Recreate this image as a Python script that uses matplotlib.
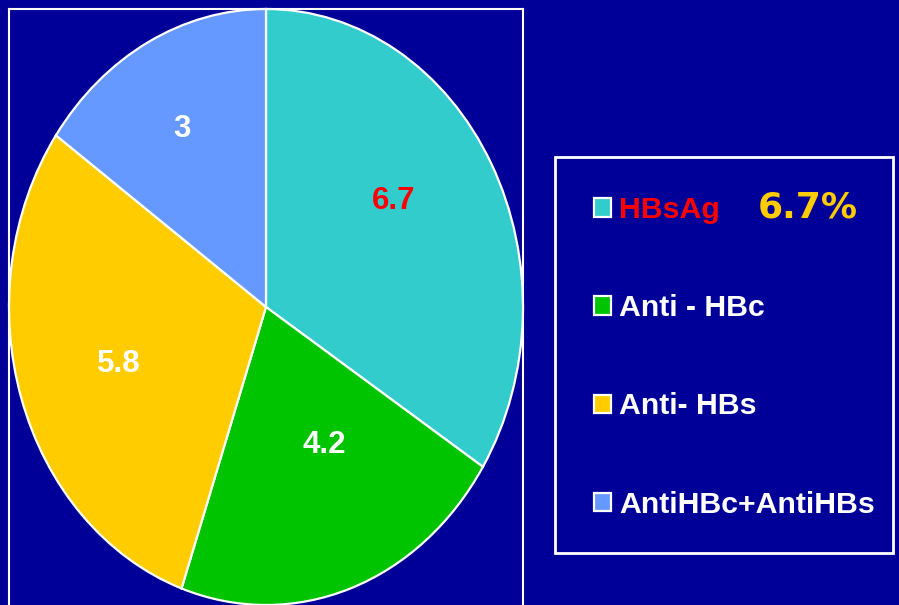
import matplotlib

matplotlib.use("Agg")

import matplotlib.pyplot as plt
from matplotlib.patches import Rectangle

BG_COLOR = "#000099"
SLICE_VALUES = [6.7, 4.2, 5.8, 3]
SLICE_LABELS = ["6.7", "4.2", "5.8", "3"]
SLICE_COLORS = ["#33CCCC", "#00C400", "#FFCC00", "#6699FF"]
LABEL_COLORS = ["#FF0000", "white", "white", "white"]
LEGEND_LABELS = ["HBsAg", "Anti - HBc", "Anti- HBs", "AntiHBc+AntiHBs"]
LEGEND_TEXT_COLORS = ["#FF0000", "white", "white", "white"]
HIGHLIGHT = "6.7%"

# label centres in pie data units (pie is stretched to an ellipse)
LABEL_XY = [(0.498, 0.356), (0.226, -0.463), (-0.572, -0.191), (-0.327, 0.597)]

W, H = 899, 605
fig = plt.figure(figsize=(W / 100, H / 100), dpi=100, facecolor=BG_COLOR)

ax = fig.add_axes([9 / W, 0, 514 / W, 596 / H])
ax.set_facecolor(BG_COLOR)
wedges, texts = ax.pie(
    SLICE_VALUES,
    labels=SLICE_LABELS,
    colors=SLICE_COLORS,
    startangle=90,
    counterclock=False,
    labeldistance=0.6,
    wedgeprops={"edgecolor": "white", "linewidth": 1.6},
    textprops={"fontsize": 22.5, "fontweight": "bold",
               "family": ["Liberation Sans", "DejaVu Sans"]},
)
ax.set_aspect("auto")
ax.set_xlim(-1, 1)
ax.set_ylim(-1, 1)
ax.set_frame_on(True)
for name, spine in ax.spines.items():
    spine.set_color("white")
    spine.set_linewidth(1.5)
ax.spines["bottom"].set_visible(False)

for txt, xy, col in zip(texts, LABEL_XY, LABEL_COLORS):
    txt.set_position(xy)
    txt.set_ha("center")
    txt.set_va("center")
    txt.set_color(col)

# legend box
fig.patches.append(Rectangle((555 / W, 1 - 553 / H), 338 / W, 396 / H,
                             transform=fig.transFigure, facecolor="none",
                             edgecolor="white", linewidth=2))

leg = fig.legend(
    wedges, LEGEND_LABELS,
    loc="upper left",
    bbox_to_anchor=(594 / W, 1 - 196 / H),
    frameon=False,
    borderpad=0,
    borderaxespad=0,
    handlelength=0.56,
    handleheight=0.56,
    handletextpad=0.28,
    labelspacing=2.32,
    prop={"family": "Liberation Sans", "weight": "bold", "size": 21.8},
)
for txt, col in zip(leg.get_texts(), LEGEND_TEXT_COLORS):
    txt.set_color(col)

fig.text(808 / W, 1 - 207 / H, HIGHLIGHT, color="#FFCC00", fontsize=26,
         fontweight="bold", family="DejaVu Sans", ha="center", va="center")

fig.savefig("out.png", dpi=100, facecolor=BG_COLOR)
